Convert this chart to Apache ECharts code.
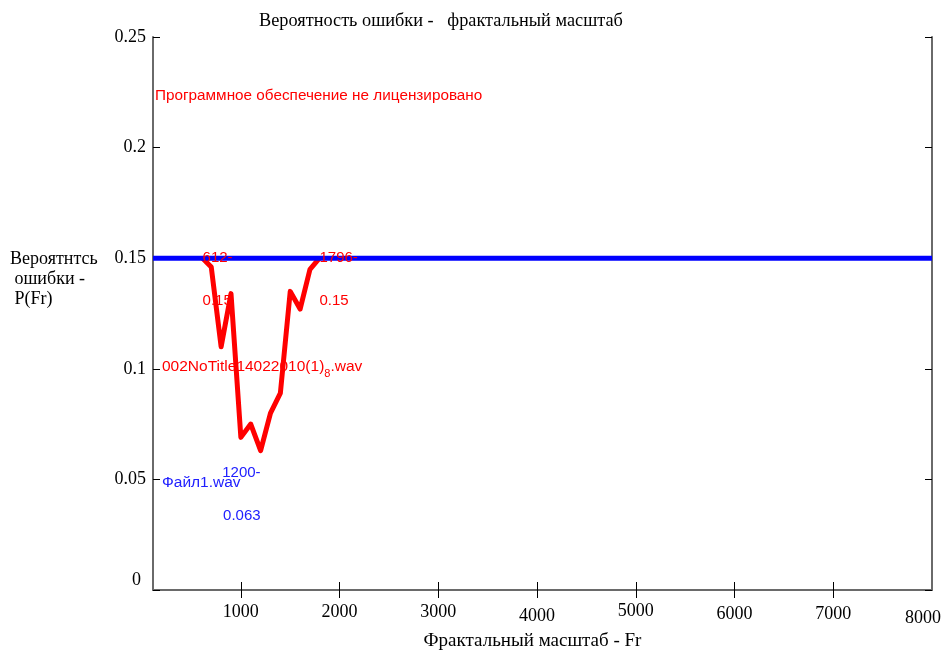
<!DOCTYPE html>
<html>
<head>
<meta charset="utf-8">
<title>Вероятность ошибки - фрактальный масштаб</title>
<script src="https://cdn.jsdelivr.net/npm/echarts@6/dist/echarts.min.js"></script>
<style>
  html, body { margin: 0; padding: 0; background: #fff; }
  #chart { width: 944px; height: 652px; }
</style>
</head>
<body>
<div id="chart"></div>
<script>
// данные кривой (файл 002NoTitle...)
const fractalScale = [612, 700, 800, 900, 1000, 1100, 1200, 1300, 1400, 1500, 1600, 1700, 1796];
const errorProb = [0.15, 0.146, 0.110, 0.134, 0.069, 0.075, 0.063, 0.080, 0.089, 0.135, 0.127, 0.145, 0.15];

// горизонтальная линия (Файл1.wav)
const levelX = [110, 8000];
const levelY = [0.15, 0.15];

// подписи осей
const xTickValues = [1000, 2000, 3000, 4000, 5000, 6000, 7000];
const xLabelValues = [1000, 2000, 3000, 4000, 5000, 6000, 7000, 8000];
const seriesNames = ['002NoTitle14022010(1)_8.wav', 'Файл1.wav'];

const SERIF = '"Liberation Serif", "DejaVu Serif", serif';
const SANS = '"Liberation Sans", Arial, sans-serif';
const FRAME = '#6a6a6a';

// небольшие сдвиги подписей оси X, как на исходной картинке
const xLabelNudge = {
  1000: [1, 0], 2000: [1, 0], 3000: [1, 0], 4000: [5, 0],
  5000: [0, 0], 6000: [3, 0], 7000: [3, 0], 8000: [7, 18]
};
const xRich = {};
xLabelValues.forEach(v => {
  const n = xLabelNudge[v] || [0, 0];
  xRich['v' + v] = { fontFamily: SERIF, fontSize: 18, color: '#000', padding: [n[0], n[1], 0, 0] };
});

const curve = fractalScale.map((x, i) => [x, errorProb[i]]);
const level = levelX.map((x, i) => [x, levelY[i]]);

let minIdx = 0;
errorProb.forEach((v, i) => { if (v < errorProb[minIdx]) minIdx = i; });
const last = fractalScale.length - 1;

const chart = echarts.init(document.getElementById('chart'), null, { renderer: 'canvas' });

const frameAxis = {
  type: 'value',
  min: levelX[0],
  max: levelX[1],
  axisLine: { show: true, lineStyle: { color: FRAME, width: 2 } },
  splitLine: { show: false }
};

chart.setOption({
  animation: false,
  backgroundColor: '#fff',
  title: [
    {
      text: 'Вероятность ошибки -   фрактальный масштаб',
      left: 254,
      top: 7,
      textStyle: { fontFamily: SERIF, fontSize: 18.3, fontWeight: 'normal', color: '#000' }
    },
    {
      text: 'Программное обеспечение не лицензировано',
      left: 150,
      top: 83,
      textStyle: { fontFamily: SANS, fontSize: 15.3, fontWeight: 'normal', color: '#ff0000' }
    }
  ],
  legend: {
    orient: 'vertical',
    left: 152,
    top: 354,
    itemGap: 96,
    itemWidth: 0,
    itemHeight: 0,
    icon: 'none',
    selectedMode: false,
    data: [
      { name: seriesNames[0], textStyle: { color: '#ff0000' } },
      { name: seriesNames[1], textStyle: { color: '#2020ff' } }
    ],
    formatter: name => {
      const parts = name.split('_');
      if (parts.length < 2) return '{n|' + name + '}';
      return '{n|' + parts[0] + '}{s|' + parts[1].charAt(0) + '}{n|' + parts[1].slice(1) + '}';
    },
    textStyle: {
      fontFamily: SANS,
      fontSize: 15.5,
      rich: {
        n: { fontFamily: SANS, fontSize: 15.5 },
        s: { fontFamily: SANS, fontSize: 11, padding: [13, 0, 0, 0] }
      }
    }
  },
  graphic: [
    {
      type: 'text',
      left: 10,
      top: 249,
      style: {
        text: 'Вероятнтсь\n ошибки -\n P(Fr)',
        font: '18px ' + SERIF,
        lineHeight: 20,
        fill: '#000'
      }
    }
  ],
  grid: { left: 153, right: 12, top: 37, bottom: 62, containLabel: false, outerBoundsMode: 'none' },
  xAxis: [
    Object.assign({}, frameAxis, {
      position: 'bottom',
      name: 'Фрактальный масштаб - Fr',
      nameLocation: 'middle',
      nameGap: 39,
      nameTextStyle: { fontFamily: SERIF, fontSize: 19, color: '#000', padding: [0, 20, 0, 0] },
      axisTick: { show: true, inside: true, length: 8, customValues: xTickValues, lineStyle: { color: '#000', width: 1 } },
      axisLabel: {
        show: true,
        margin: 12,
        customValues: xLabelValues,
        formatter: v => '{v' + v + '|' + v + '}',
        rich: xRich
      }
    }),
    Object.assign({}, frameAxis, {
      position: 'top',
      axisTick: { show: true, inside: true, length: 8, customValues: xTickValues, lineStyle: { color: '#000', width: 1 } },
      axisLabel: { show: false }
    })
  ],
  yAxis: [
    {
      type: 'value',
      position: 'left',
      min: 0,
      max: 0.25,
      interval: 0.05,
      axisLine: { show: true, lineStyle: { color: FRAME, width: 2 } },
      axisTick: { show: true, inside: true, length: 7, lineStyle: { color: '#000', width: 1 } },
      splitLine: { show: false },
      axisLabel: {
        margin: 7,
        fontFamily: SERIF,
        fontSize: 18,
        color: '#000',
        formatter: v => (v === 0 ? '{z|0}' : String(v)),
        rich: { z: { fontFamily: SERIF, fontSize: 18, color: '#000', padding: [0, 5, 20, 0] } }
      }
    },
    {
      type: 'value',
      position: 'right',
      min: 0,
      max: 0.25,
      interval: 0.05,
      axisLine: { show: true, lineStyle: { color: FRAME, width: 2 } },
      axisTick: { show: true, inside: true, length: 7, lineStyle: { color: '#000', width: 1 } },
      axisLabel: { show: false },
      splitLine: { show: false }
    }
  ],
  series: [
    {
      name: seriesNames[0],
      type: 'line',
      data: curve,
      symbol: 'none',
      lineStyle: { color: '#ff0000', width: 5, join: 'round' },
      itemStyle: { color: '#ff0000' },
      z: 2,
      markPoint: {
        symbol: 'circle',
        symbolSize: 0,
        data: [
          { coord: curve[0], name: String(fractalScale[0]), value: errorProb[0] },
          { coord: curve[last], name: String(fractalScale[last]), value: errorProb[last] }
        ],
        label: {
          show: true,
          position: [0, -21.5],
          align: 'left',
          verticalAlign: 'top',
          lineHeight: 43,
          fontFamily: SANS,
          fontSize: 15,
          color: '#ff0000',
          formatter: p => p.name + '-\n' + p.value
        }
      }
    },
    {
      name: seriesNames[1],
      type: 'line',
      data: level,
      symbol: 'none',
      lineStyle: { color: '#0000ff', width: 5 },
      itemStyle: { color: '#0000ff' },
      z: 3,
      markPoint: {
        symbol: 'circle',
        symbolSize: 0,
        data: [
          { coord: curve[minIdx], name: String(fractalScale[minIdx]), value: errorProb[minIdx] }
        ],
        label: {
          show: true,
          position: [0, 0.5],
          align: 'right',
          verticalAlign: 'top',
          lineHeight: 43,
          fontFamily: SANS,
          fontSize: 15,
          color: '#2020ff',
          formatter: p => p.name + '-\n' + p.value
        }
      }
    }
  ]
});
</script>
</body>
</html>
